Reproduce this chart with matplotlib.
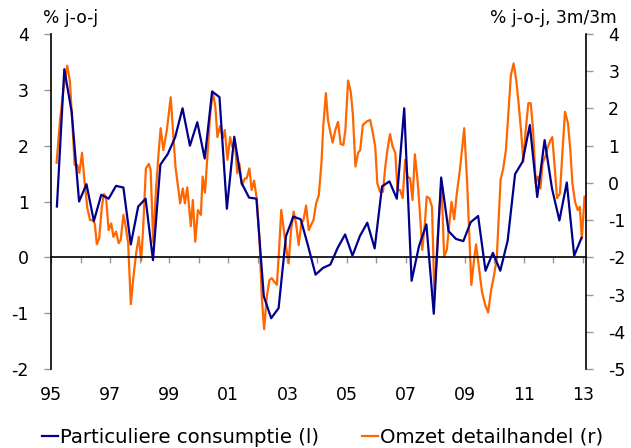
import matplotlib
matplotlib.use("Agg")
import matplotlib.pyplot as plt
from matplotlib.lines import Line2D

plt.rcParams['font.family'] = ['DejaVu Sans']
plt.rcParams['axes.unicode_minus'] = False

# Particuliere consumptie (quarterly, % j-o-j, left axis)
cons_start = 1995.2
cons_values = [0.91, 3.37, 2.6, 1.0, 1.31, 0.65, 1.12, 1.05, 1.28, 1.25,
               0.23, 0.91, 1.05, -0.05, 1.66, 1.85, 2.15, 2.67, 2.0, 2.42,
               1.77, 2.97, 2.87, 0.87, 2.16, 1.33, 1.07, 1.05, -0.70, -1.09,
               -0.91, 0.38, 0.73, 0.68, 0.2, -0.31, -0.19, -0.13, 0.17, 0.41,
               0.03, 0.38, 0.62, 0.16, 1.27, 1.36, 1.05, 2.67, -0.42, 0.2,
               0.59, -1.01, 1.43, 0.47, 0.33, 0.29, 0.63, 0.74, -0.24, 0.08,
               -0.24, 0.3, 1.49, 1.71, 2.37, 1.08, 2.1, 1.23, 0.66, 1.34,
               0.03, 0.35]
cons_years = [cons_start + 0.25 * i for i in range(len(cons_values))]

# Omzet detailhandel (% j-o-j, 3m/3m, right axis)
ret_years = [1995.19, 1995.30, 1995.42, 1995.55, 1995.64, 1995.71, 1995.80, 1995.89, 1995.96, 1996.05,
             1996.14, 1996.23, 1996.32, 1996.41, 1996.48, 1996.55, 1996.63, 1996.72, 1996.79, 1996.86,
             1996.95, 1997.04, 1997.11, 1997.20, 1997.29, 1997.36, 1997.45, 1997.51, 1997.61, 1997.70,
             1997.79, 1997.88, 1997.97, 1998.05, 1998.12, 1998.21, 1998.31, 1998.37, 1998.46, 1998.55,
             1998.64, 1998.71, 1998.80, 1998.92, 1999.05, 1999.21, 1999.37, 1999.46, 1999.53, 1999.61,
             1999.73, 1999.80, 1999.88, 1999.97, 2000.07, 2000.13, 2000.21, 2000.29, 2000.38, 2000.47,
             2000.56, 2000.63, 2000.72, 2000.81, 2000.88, 2000.97, 2001.06, 2001.13, 2001.22, 2001.30,
             2001.37, 2001.46, 2001.56, 2001.62, 2001.71, 2001.79, 2001.87, 2001.96, 2002.05, 2002.13,
             2002.21, 2002.30, 2002.39, 2002.47, 2002.55, 2002.64, 2002.71, 2002.79, 2002.89, 2002.95,
             2003.04, 2003.12, 2003.21, 2003.29, 2003.38, 2003.47, 2003.54, 2003.63, 2003.72, 2003.80,
             2003.88, 2003.97, 2004.06, 2004.15, 2004.21, 2004.30, 2004.37, 2004.47, 2004.53, 2004.62,
             2004.71, 2004.80, 2004.89, 2004.96, 2005.05, 2005.14, 2005.21, 2005.30, 2005.39, 2005.46,
             2005.55, 2005.64, 2005.70, 2005.80, 2005.89, 2005.97, 2006.04, 2006.13, 2006.23, 2006.31,
             2006.38, 2006.47, 2006.56, 2006.65, 2006.72, 2006.81, 2006.90, 2006.98, 2007.06, 2007.15,
             2007.23, 2007.31, 2007.40, 2007.49, 2007.56, 2007.65, 2007.71, 2007.80, 2007.89, 2007.97,
             2008.05, 2008.13, 2008.21, 2008.30, 2008.39, 2008.55, 2008.64, 2008.73, 2008.84, 2008.98,
             2009.08, 2009.22, 2009.30, 2009.38, 2009.46, 2009.58, 2009.69, 2009.79, 2009.89, 2010.00,
             2010.08, 2010.21, 2010.30, 2010.39, 2010.48, 2010.56, 2010.65, 2010.74, 2010.81, 2010.91,
             2010.98, 2011.06, 2011.15, 2011.23, 2011.31, 2011.40, 2011.47, 2011.56, 2011.63, 2011.72,
             2011.81, 2011.90, 2011.96, 2012.03, 2012.12, 2012.22, 2012.30, 2012.39, 2012.49, 2012.57,
             2012.64, 2012.73, 2012.82, 2012.89, 2012.96, 2013.05]
ret_values = [0.54, 1.64, 2.5, 3.15, 2.72, 1.78, 0.48, 0.48, 0.27, 0.81,
              -0.01, -0.68, -1.0, -1.0, -1.09, -1.65, -1.49, -0.64, -0.30, -0.37,
              -1.27, -1.09, -1.45, -1.31, -1.62, -1.53, -0.86, -1.09, -1.62, -3.26,
              -2.52, -1.89, -1.45, -2.09, -1.18, 0.39, 0.51, 0.35, -1.61, -0.19,
              0.8, 1.47, 0.88, 1.42, 2.3, 0.44, -0.55, -0.15, -0.55, -0.12,
              -1.16, -0.46, -1.58, -0.73, -0.86, 0.17, -0.26, 0.70, 1.78, 2.45,
              2.05, 1.23, 1.53, 1.2, 1.42, 0.62, 1.23, 0.97, 1.11, 0.26,
              0.53, -0.06, 0.12, 0.12, 0.39, -0.19, 0.06, -0.41, -1.45, -3.06,
              -3.93, -3.06, -2.61, -2.56, -2.65, -2.74, -1.89, -0.73, -1.35, -1.71,
              -2.16, -1.27, -0.77, -1.09, -1.67, -1.09, -1.0, -0.61, -1.27, -1.13,
              -1.0, -0.55, -0.33, 0.53, 1.51, 2.41, 1.69, 1.29, 1.08, 1.42,
              1.64, 1.04, 1.02, 1.42, 2.75, 2.45, 1.87, 0.44, 0.81, 0.88,
              1.56, 1.62, 1.66, 1.69, 1.33, 0.97, -0.01, -0.24, -0.24, 0.44,
              0.88, 1.31, 0.97, 0.8, -0.19, -0.19, -0.41, 0.62, 0.17, 0.12,
              -0.46, 0.77, 0.08, -0.91, -1.80, -1.09, -0.37, -0.41, -0.64, -3.01,
              -1.98, -0.82, 0.03, -1.98, -1.80, -0.51, -0.98, -0.28, 0.39, 1.47,
              -0.01, -2.74, -2.16, -1.65, -2.16, -2.92, -3.28, -3.48, -2.88, -2.43,
              -2.03, 0.08, 0.39, 0.88, 1.96, 2.9, 3.21, 2.76, 2.23, 1.33,
              0.57, 1.42, 2.14, 2.14, 1.42, -0.01, 0.17, -0.15, 0.53, 0.70,
              0.97, 1.15, 1.23, 0.53, -0.41, -0.28, 0.8, 1.91, 1.60, 0.88,
              -0.01, -0.51, -0.73, -0.64, -1.49, -0.37]

year_ticks = list(range(1995, 2014))
label_years = [1995, 1997, 1999, 2001, 2003, 2005, 2007, 2009, 2011, 2013]
label_texts = ['95', '97', '99', '01', '03', '05', '07', '09', '11', '13']
left_ticks = [-2, -1, 0, 1, 2, 3, 4]
right_ticks = [-5, -4, -3, -2, -1, 0, 1, 2, 3, 4]

blue = '#00008C'
orange = '#FF6600'
tick_gray = '#999999'

fig = plt.figure(figsize=(6.31, 4.48), dpi=100)
ax = fig.add_axes([51 / 631, 1 - 369 / 448, (586 - 51) / 631, (369 - 34) / 448])
ax2 = ax.twinx()

ax.set_xlim(1995, 2013.1)
ax.set_ylim(-2, 4)
ax2.set_ylim(-5, 4)

ax2.plot(ret_years, ret_values, color=orange, lw=1.6, zorder=2)
ax.plot(cons_years, cons_values, color=blue, lw=1.6, zorder=3)
ax.set_zorder(ax2.get_zorder() + 1)
ax.patch.set_visible(False)

for a in (ax, ax2):
    a.spines['top'].set_visible(False)
ax.spines['right'].set_visible(False)
ax2.spines['left'].set_visible(False)
ax2.spines['bottom'].set_visible(False)
ax.spines['left'].set_linewidth(1.2)
ax2.spines['right'].set_linewidth(1.2)

# x axis line at zero of left axis
ax.spines['bottom'].set_position(('data', 0))
ax.spines['bottom'].set_linewidth(1.2)
ax.set_xticks(year_ticks)
ax.tick_params(axis='x', direction='out', length=4, width=1, color=tick_gray,
               labelbottom=False)

# x tick labels at bottom of plot
sec = ax.secondary_xaxis('bottom')
sec.spines['bottom'].set_visible(False)
sec.set_xticks(label_years)
sec.set_xticklabels(label_texts)
sec.tick_params(axis='x', length=0, pad=12, labelsize=12.5)

ax.set_yticks(left_ticks)
ax.tick_params(axis='y', direction='out', length=5, width=1, color=tick_gray,
               pad=11, labelsize=12.5)
ax2.set_yticks(right_ticks)
ax2.tick_params(axis='y', direction='out', length=5, width=1, color=tick_gray,
                pad=11, labelsize=12.5)

fig.text(43 / 631, 1 - 18 / 448, '% j-o-j', fontsize=12.3, ha='left', va='center')
fig.text(617 / 631, 1 - 18 / 448, '% j-o-j, 3m/3m', fontsize=12.3, ha='right', va='center')

handles = [Line2D([], [], color=blue, lw=1.6), Line2D([], [], color=orange, lw=1.6)]
fig.legend(handles, ['Particuliere consumptie (l)', 'Omzet detailhandel (r)'],
           loc='center left', bbox_to_anchor=(42 / 631, 1 - 437 / 448), ncol=2, frameon=False,
           fontsize=14.2, handlelength=0.8, handletextpad=0.1, columnspacing=2.2,
           borderaxespad=0, borderpad=0)

fig.savefig('out.png', dpi=100)
